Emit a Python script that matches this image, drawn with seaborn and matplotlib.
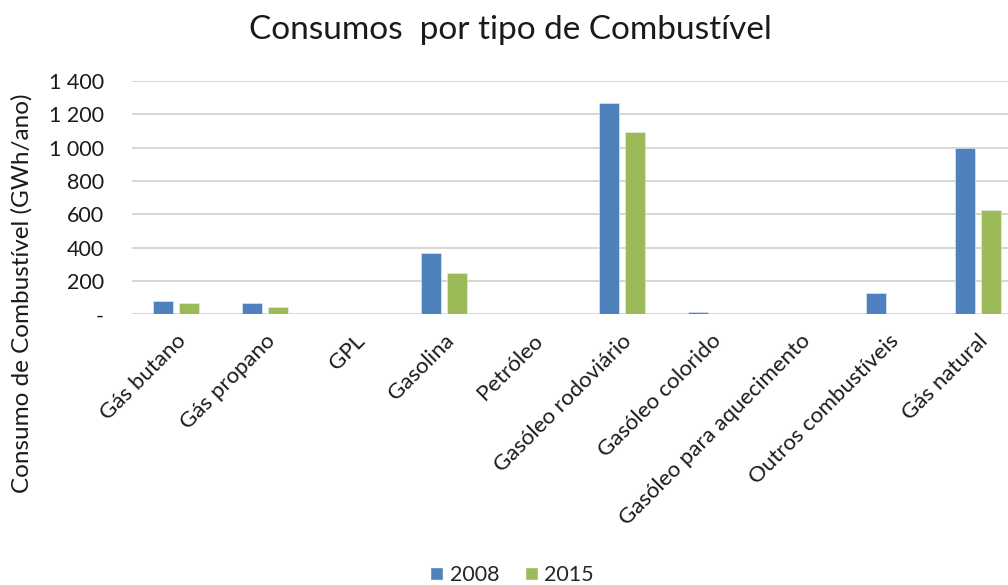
import numpy as np
import pandas as pd
import matplotlib
matplotlib.use("Agg")
import matplotlib.pyplot as plt
import seaborn as sns
from matplotlib.ticker import FuncFormatter, MultipleLocator
from matplotlib.patches import Patch

categories = ["Gás butano", "Gás propano", "GPL", "Gasolina", "Petróleo",
              "Gasóleo rodoviário", "Gasóleo colorido", "Gasóleo para aquecimento",
              "Outros combustíveis", "Gás natural"]
values_2008 = [81, 65, 0, 370, 0, 1267, 12, 0, 125, 996]
values_2015 = [65, 41, 0, 248, 0, 1096, 0, 0, 10, 626]
series = ["2008", "2015"]
colors = ["#4F81BD", "#9BBB59"]

df = pd.DataFrame({
    "Combustível": categories * 2,
    "Ano": [series[0]] * len(categories) + [series[1]] * len(categories),
    "Valor": values_2008 + values_2015,
})

sns.set_theme(style="white")
plt.rcParams["font.family"] = ["Lato", "DejaVu Sans"]

fig = plt.figure(figsize=(10.08, 5.85), dpi=100)
ax = fig.add_axes([0.1307, 0.4629, 0.8837, 0.3986])

sns.barplot(data=df, x="Combustível", y="Valor", hue="Ano", order=categories,
            hue_order=series, palette=colors, width=0.5836, gap=0.23,
            edgecolor="#e8eef7", linewidth=0.4, saturation=1, ax=ax, legend=False)

ax.set_ylim(0, 1400)
ax.set_xlim(-0.5, len(categories) - 0.5)
ax.yaxis.set_major_locator(MultipleLocator(200))
ax.yaxis.set_major_formatter(FuncFormatter(
    lambda v, p: "-" if v == 0 else f"{v:,.0f}".replace(",", " ")))
ax.grid(axis="y", color="#d0d0d0", linewidth=1.2)
ax.set_axisbelow(True)
for s in ax.spines.values():
    s.set_visible(False)
ax.tick_params(axis="y", labelsize=15.5, pad=20, length=0, colors="#1a1a1a")
ax.tick_params(axis="x", labelsize=16, pad=12, length=0, colors="#1a1a1a")
plt.setp(ax.get_xticklabels(), rotation=45, ha="right", rotation_mode="anchor")
ax.set_xlabel("")
ax.set_ylabel("Consumo de Combustível (GWh/ano)", fontsize=17.5, color="#1a1a1a")
ax.yaxis.set_label_coords(-0.123, 0.091, transform=ax.transAxes)
ax.yaxis.label.set_verticalalignment("center")

fig.text(0.506, 0.948, "Consumos  por tipo de Combustível", ha="center", va="center",
         fontsize=24, color="#1a1a1a")

handles = [Patch(facecolor=c, edgecolor="white", label=s) for s, c in zip(series, colors)]
fig.legend(handles=handles, loc="center", bbox_to_anchor=(0.508, 0.017), ncol=2,
           frameon=False, fontsize=15.5, handlelength=0.6, handleheight=0.6,
           handletextpad=0.3, columnspacing=1.2)

fig.savefig("out.png", dpi=100)
